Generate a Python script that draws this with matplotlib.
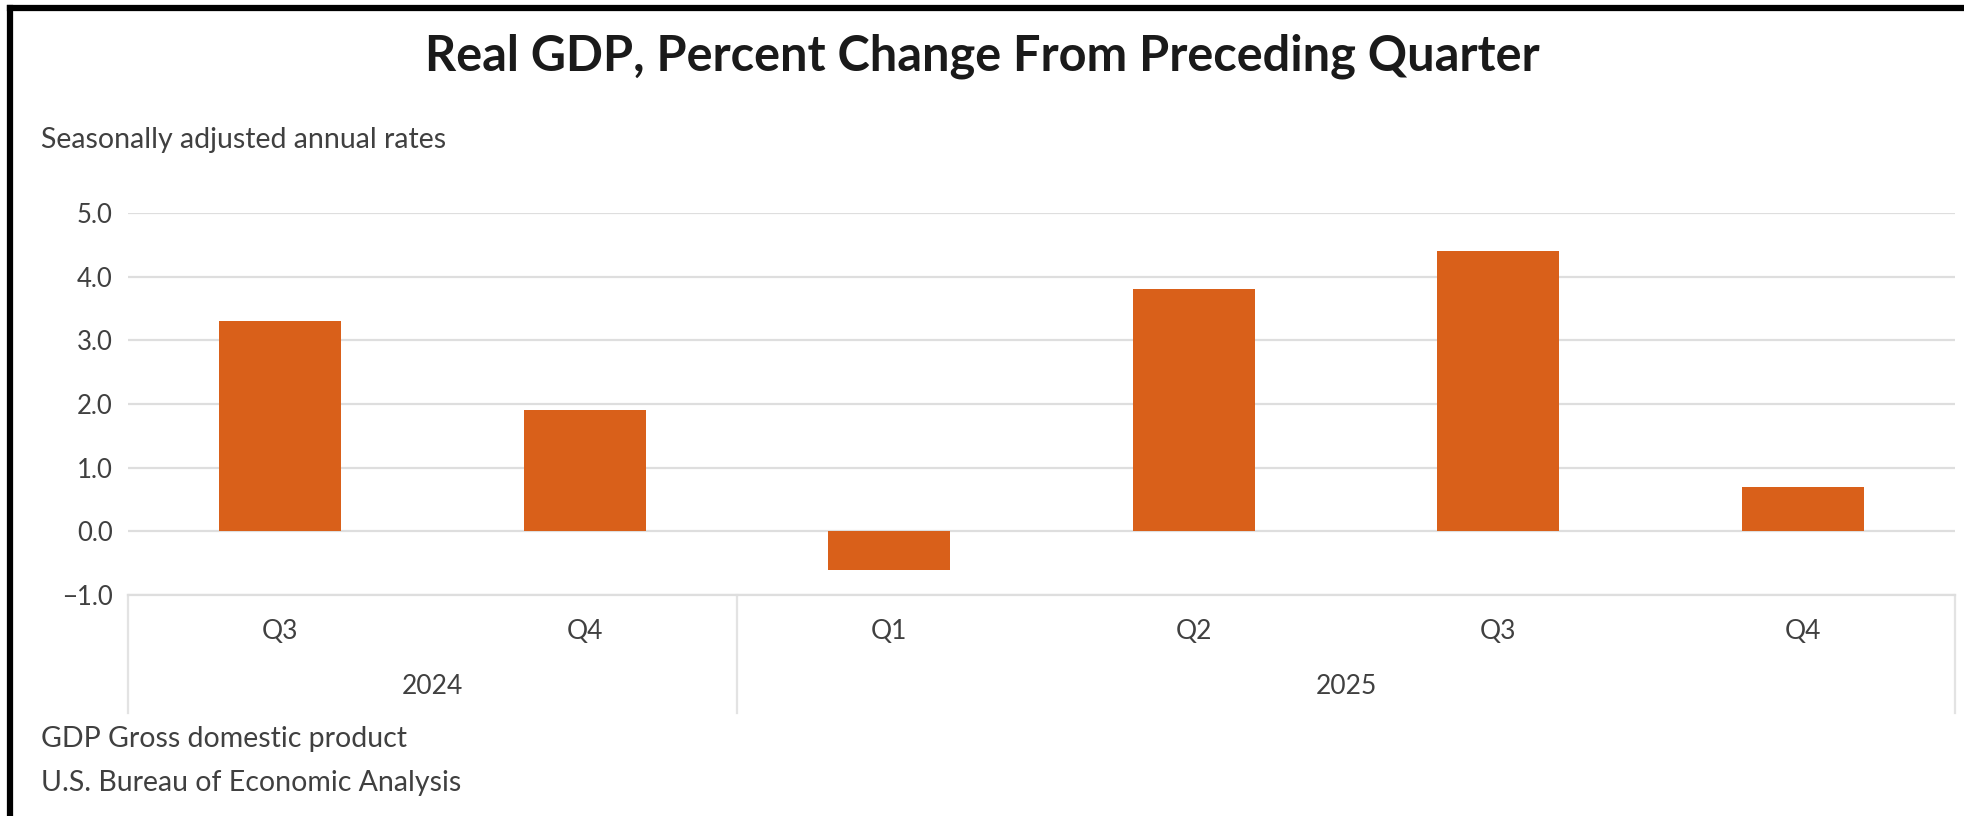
import matplotlib.pyplot as plt
from matplotlib.lines import Line2D

# values
quarters = ["Q3", "Q4", "Q1", "Q2", "Q3", "Q4"]
years = ["2024", "2025"]
year_sizes = [2, 4]
gdp_change = [3.3, 1.9, -0.6, 3.8, 4.4, 0.7]
yticks = [-1.0, 0.0, 1.0, 2.0, 3.0, 4.0, 5.0]

plt.rcParams["font.family"] = ["Lato", "DejaVu Sans"]
W, H = 1965, 816
fig = plt.figure(figsize=(W / 100, H / 100), dpi=100)
ax = fig.add_axes([128 / W, 1 - 595 / H, (1955 - 128) / W, (595 - 213) / H])

x = list(range(len(gdp_change)))
ax.bar(x, gdp_change, width=0.4, color="#D9601A", zorder=3)

ax.set_xlim(-0.5, len(x) - 0.5)
ax.set_ylim(-1, 5)
ax.set_yticks(yticks)
ax.set_yticklabels([f"{v:.1f}".replace("-", "\u2212") for v in yticks],
                   fontsize=18.5, color="#404040")
ax.tick_params(axis="y", length=0, pad=11)
ax.set_xticks(x)
ax.set_xticklabels(quarters, fontsize=19, color="#404040")
ax.tick_params(axis="x", length=0, pad=17)
ax.yaxis.grid(True, color="#dedede", lw=1.6, zorder=0)
for s in ["top", "right", "left"]:
    ax.spines[s].set_visible(False)
ax.spines["bottom"].set_color("#dedede")
ax.spines["bottom"].set_linewidth(1.6)

# year groups and separators under the axis
trans = ax.get_xaxis_transform()
start = -0.5
bounds = [start]
for name, n in zip(years, year_sizes):
    ax.text(start + n / 2, -0.24, name, transform=trans, ha="center",
            va="center", fontsize=19, color="#404040")
    start += n
    bounds.append(start)
for b in bounds:
    ax.plot([b, b], [0, -0.31], transform=trans, color="#e3e3e3",
            lw=1.6, clip_on=False)

fig.text(0.5, 1 - 56 / H, "Real GDP, Percent Change From Preceding Quarter",
         ha="center", va="center", fontsize=35, fontweight="bold",
         color="#1a1a1a")
fig.text(41 / W, 1 - 140 / H, "Seasonally adjusted annual rates",
         ha="left", va="center", fontsize=20.5, color="#404040")
fig.text(41 / W, 1 - 739 / H, "GDP Gross domestic product",
         ha="left", va="center", fontsize=20.5, color="#404040")
fig.text(41 / W, 1 - 783 / H, "U.S. Bureau of Economic Analysis",
         ha="left", va="center", fontsize=20.5, color="#404040")

# black frame on top and left
fig.add_artist(Line2D([10 / W, 1], [1 - 8 / H, 1 - 8 / H], color="black", lw=4.5))
fig.add_artist(Line2D([10 / W, 10 / W], [0, 1 - 8 / H], color="black", lw=4.5))

fig.savefig("out.png", dpi=100)
